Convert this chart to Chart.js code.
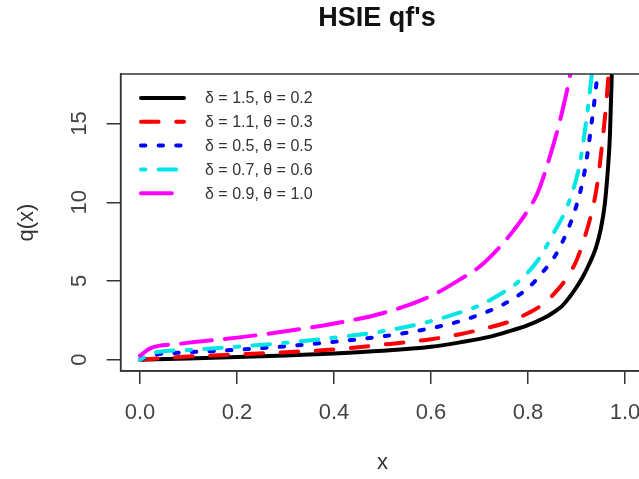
<!DOCTYPE html>
<html>
<head>
<meta charset="utf-8">
<title>HSIE qf's</title>
<script src="https://cdn.jsdelivr.net/npm/chart.js@4.4.0/dist/chart.umd.min.js"></script>
<style>
  html, body { margin: 0; padding: 0; background: #fff; overflow: hidden; }
  #wrap { position: relative; width: 660px; height: 479px; }
</style>
</head>
<body>
<div id="wrap"><canvas id="qfChart"></canvas></div>
<script>
// tick positions
const xTicks = [0, 0.2, 0.4, 0.6, 0.8, 1.0];
const yTicks = [0, 5, 10, 15];

// legend text, one per curve
const seriesLabels = [
  "δ = 1.5, θ = 0.2",
  "δ = 1.1, θ = 0.3",
  "δ = 0.5, θ = 0.5",
  "δ = 0.7, θ = 0.6",
  "δ = 0.9, θ = 1.0",
];

// q(x) for each parameter pair
const blackX = [0, 0.1, 0.2, 0.3, 0.4, 0.5, 0.6, 0.66, 0.72, 0.76, 0.8, 0.83, 0.85, 0.87, 0.885, 0.9, 0.912, 0.925, 0.94, 0.95, 0.958, 0.964, 0.969, 0.973, 0.976];
const blackY = [0, 0.08, 0.17, 0.27, 0.39, 0.56, 0.82, 1.1, 1.45, 1.8, 2.2, 2.6, 2.95, 3.4, 3.95, 4.6, 5.2, 6.0, 7.1, 8.3, 9.8, 11.8, 14.3, 18.5, 22.0];

const redX = [0, 0.1, 0.2, 0.3, 0.4, 0.5, 0.6, 0.66, 0.72, 0.76, 0.8, 0.83, 0.86, 0.88, 0.9, 0.915, 0.93, 0.942, 0.955, 0.963, 0.97];
const redY = [0, 0.2, 0.33, 0.47, 0.65, 0.95, 1.3, 1.62, 2.05, 2.4, 2.95, 3.5, 4.4, 5.2, 6.3, 7.6, 9.2, 11.0, 14.3, 16.9, 20.0];

const blueX = [0, 0.03, 0.1, 0.2, 0.3, 0.4, 0.5, 0.6, 0.66, 0.72, 0.76, 0.8, 0.83, 0.856, 0.88, 0.9, 0.917, 0.931, 0.943, 0.95];
const blueY = [0, 0.3, 0.47, 0.63, 0.85, 1.13, 1.48, 2.0, 2.45, 3.1, 3.7, 4.55, 5.55, 6.6, 8.1, 9.8, 12.0, 15.0, 18.1, 20.5];

const cyanX = [0, 0.03, 0.1, 0.2, 0.3, 0.4, 0.5, 0.6, 0.66, 0.7, 0.75, 0.78, 0.82, 0.852, 0.883, 0.907, 0.921, 0.931, 0.94];
const cyanY = [0, 0.45, 0.62, 0.82, 1.07, 1.4, 1.8, 2.45, 3.0, 3.45, 4.3, 4.95, 6.3, 8.0, 9.9, 12.5, 15.4, 18.0, 21.0];

const magentaX = [0, 0.02, 0.08, 0.2, 0.3, 0.4, 0.5, 0.6, 0.66, 0.7, 0.74, 0.77, 0.8, 0.82, 0.845, 0.866, 0.887, 0.9];
const magentaY = [0.25, 0.7, 1.0, 1.4, 1.8, 2.3, 2.95, 4.05, 5.1, 5.9, 7.1, 8.2, 9.5, 10.6, 12.9, 15.2, 18.1, 20.5];

const FONT = "'Liberation Sans', Arial, Helvetica, sans-serif";
const U = 4.4; // dash unit, like R's lty hex digits

const toPoints = (xs, ys) => xs.map((x, i) => ({ x, y: ys[i] }));

const curves = [
  { xs: blackX, ys: blackY, color: "#000000", dash: [] },
  { xs: redX, ys: redY, color: "#ff0000", dash: [4 * U, 4 * U] },
  { xs: blueX, ys: blueY, color: "#0000ff", dash: [1 * U, 3 * U] },
  { xs: cyanX, ys: cyanY, color: "#00e5e5", dash: [1 * U, 3 * U, 4 * U, 3 * U] },
  { xs: magentaX, ys: magentaY, color: "#ff00ff", dash: [7 * U, 3 * U] },
];

const datasets = curves.map((c, i) => ({
  label: seriesLabels[i],
  data: toPoints(c.xs, c.ys),
  borderColor: c.color,
  borderDash: c.dash,
  borderWidth: 4,
  borderCapStyle: "round",
  borderJoinStyle: "round",
  pointRadius: 0,
  cubicInterpolationMode: "monotone",
  fill: false,
  clip: 0,
  order: curves.length - i, // later curves sit on top
}));

// box around the plot region + title + legend inside the plot
const framePlugin = {
  id: "frame",
  afterDraw(chart) {
    const { ctx, chartArea: a } = chart;
    ctx.save();
    ctx.strokeStyle = "#333";
    ctx.lineWidth = 1.5;
    ctx.strokeRect(a.left, a.top, a.right - a.left, a.bottom - a.top);

    ctx.fillStyle = "#111";
    ctx.font = "bold 27px " + FONT;
    ctx.textAlign = "center";
    ctx.textBaseline = "middle";
    ctx.fillText("HSIE qf's", 377, 19);
    ctx.restore();
  },
  afterDatasetsDraw(chart) {
    const { ctx } = chart;
    ctx.save();
    chart.data.datasets.forEach((ds, i) => {
      const y = 98 + i * 23.8;
      ctx.beginPath();
      ctx.strokeStyle = ds.borderColor;
      ctx.lineWidth = ds.borderWidth;
      ctx.lineCap = "round";
      ctx.setLineDash(ds.borderDash);
      ctx.moveTo(141, y);
      ctx.lineTo(184, y);
      ctx.stroke();
      ctx.setLineDash([]);
      ctx.fillStyle = "#333";
      ctx.font = "16px " + FONT;
      ctx.textAlign = "left";
      ctx.textBaseline = "middle";
      ctx.fillText(ds.label, 205, y + 1);
    });
    ctx.restore();
  },
};

new Chart(document.getElementById("qfChart"), {
  type: "line",
  data: { datasets },
  options: {
    responsive: true,
    maintainAspectRatio: false,
    animation: false,
    layout: { padding: { top: 74, right: 15.6, left: 0, bottom: 0 } },
    plugins: {
      legend: { display: false },
      title: { display: false },
      tooltip: { enabled: false },
    },
    scales: {
      x: {
        type: "linear",
        min: -0.04,
        max: 1.04,
        afterBuildTicks: (scale) => {
          scale.ticks = xTicks.map((v) => ({ value: v }));
        },
        afterFit: (scale) => {
          scale.height = 108;
        },
        grid: {
          drawOnChartArea: false,
          drawTicks: true,
          tickLength: 13,
          color: "#333",
          lineWidth: 1.5,
        },
        border: { display: true, color: "#333", width: 1.5 },
        ticks: {
          autoSkip: false,
          maxRotation: 0,
          padding: 16,
          color: "#444",
          font: { family: FONT, size: 22 },
          callback: (v) => Number(v).toFixed(1),
        },
        title: {
          display: true,
          text: "x",
          color: "#333",
          font: { family: FONT, size: 22 },
          padding: { top: 0, bottom: 3 },
        },
      },
      y: {
        type: "linear",
        min: -0.72,
        max: 18.15,
        afterBuildTicks: (scale) => {
          scale.ticks = yTicks.map((v) => ({ value: v }));
        },
        afterFit: (scale) => {
          scale.width = 120.6;
        },
        grid: {
          drawOnChartArea: false,
          drawTicks: true,
          tickLength: 14,
          color: "#333",
          lineWidth: 1.5,
        },
        border: { display: true, color: "#333", width: 1.5 },
        ticks: {
          autoSkip: false,
          minRotation: 90,
          maxRotation: 90,
          crossAlign: "center",
          padding: 14,
          color: "#444",
          font: { family: FONT, size: 22 },
          callback: (v) => String(v),
        },
        title: {
          display: true,
          text: "q(x)",
          color: "#333",
          font: { family: FONT, size: 22 },
          padding: { top: 14, bottom: 0 },
        },
      },
    },
  },
  plugins: [framePlugin],
});
</script>
</body>
</html>
